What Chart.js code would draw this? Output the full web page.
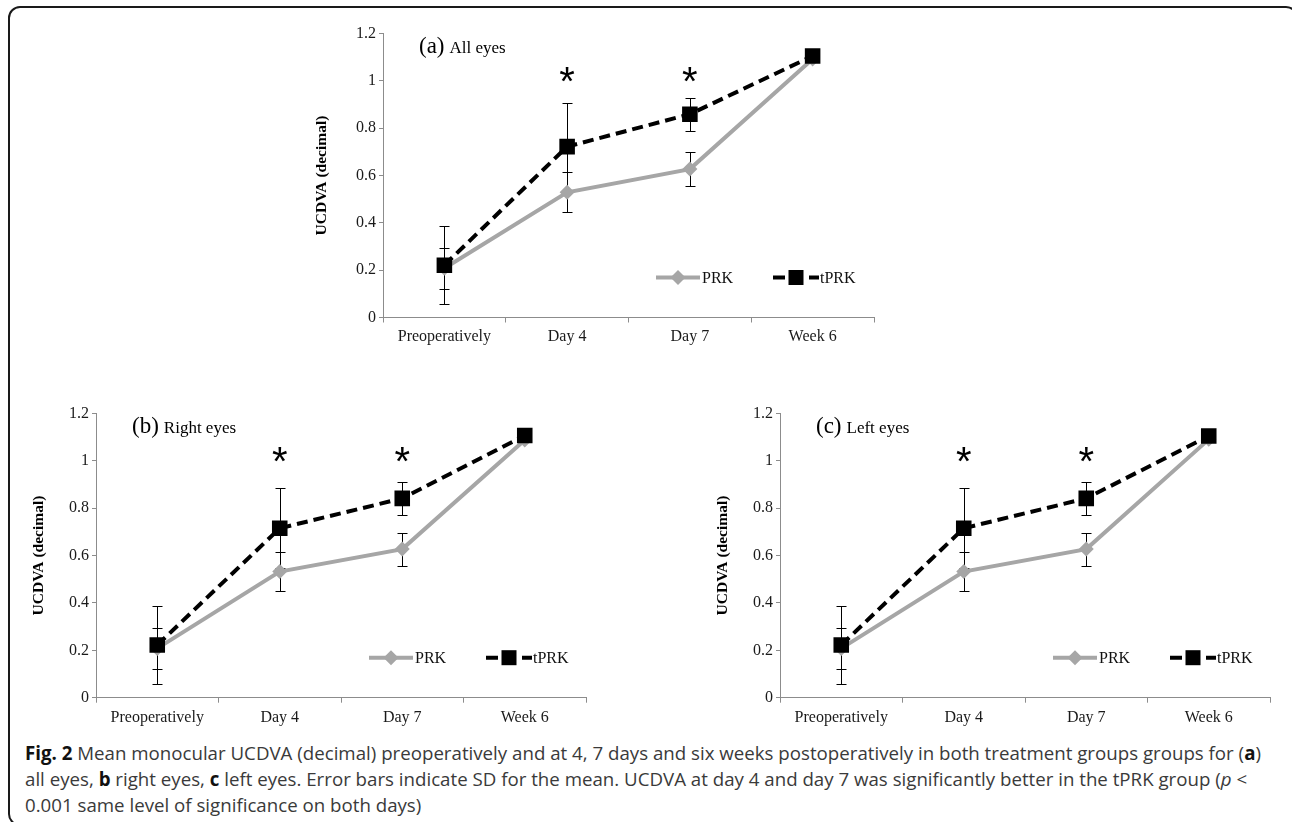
<!DOCTYPE html>
<html>
<head>
<meta charset="utf-8">
<script src="https://cdn.jsdelivr.net/npm/chart.js@4.4.0/dist/chart.umd.min.js"></script>
<style>
    body { margin: 0; background: #fff; width: 1292px; height: 822px; overflow: hidden; position: relative; }
    #frame { position: absolute; left: 8px; top: 6px; width: 1290px; height: 820px; border: 2px solid #1a1a1a; border-radius: 12px; box-sizing: border-box; }
    .panel { position: absolute; }
    #caption { position: absolute; left: 25px; top: 740px; font-family: "Open Sans"; font-size: 17.5px; line-height: 26px; color: #3a3a3a; white-space: nowrap; }
    #caption b { color: #111; }
</style>
</head>
<body>
<div id="frame"></div>
<div class="panel" style="left:297px;top:20px;width:588px;height:340px"><canvas id="chartA"></canvas></div>
<div class="panel" style="left:10px;top:400px;width:587px;height:340px"><canvas id="chartB"></canvas></div>
<div class="panel" style="left:694px;top:400px;width:587px;height:340px"><canvas id="chartC"></canvas></div>
<div id="caption">
    <div id="cap1"><b>Fig. 2</b> Mean monocular UCDVA (decimal) preoperatively and at 4, 7 days and six weeks postoperatively in both treatment groups groups for (<b>a</b>)</div>
    <div><span>all eyes, <b>b</b> right eyes, <b>c</b> left eyes. Error bars indicate SD for the mean. UCDVA at day 4 and day 7 was significantly better in the tPRK group (<i>p</i> &lt;</span></div>
    <div>0.001 same level of significance on both days)</div>
</div>
<script>
const categories = ['Preoperatively', 'Day 4', 'Day 7', 'Week 6'];
const yTickLabels = ['0', '0.2', '0.4', '0.6', '0.8', '1', '1.2'];

// (a) all eyes
const prkAll = [0.208, 0.529, 0.627, 1.092];
const prkAllSD = [0.087, 0.085, 0.071, 0.005];
const tprkAll = [0.221, 0.722, 0.859, 1.105];
const tprkAllSD = [0.166, 0.186, 0.07, 0.005];

// (b) right eyes
const prkRight = [0.208, 0.532, 0.627, 1.087];
const prkRightSD = [0.087, 0.083, 0.07, 0.005];
const tprkRight = [0.222, 0.715, 0.841, 1.106];
const tprkRightSD = [0.164, 0.169, 0.07, 0.005];

// (c) left eyes
const prkLeft = [0.208, 0.532, 0.627, 1.09];
const prkLeftSD = [0.087, 0.083, 0.07, 0.005];
const tprkLeft = [0.222, 0.715, 0.841, 1.104];
const tprkLeftSD = [0.164, 0.169, 0.07, 0.005];

const starCategories = ['Day 4', 'Day 7'];
const starLevel = 1.035;

const GRAY = '#a6a6a6';
const AXIS = '#8c8c8c';
const SERIF = 'Liberation Serif';
const STAR_SIZE = 40;

const extras = {
    id: 'extras',
    beforeDatasetsDraw(chart) {
        const { ctx } = chart;
        const x = chart.scales.x, y = chart.scales.y;
        ctx.save();
        ctx.strokeStyle = '#000';
        ctx.lineWidth = 1;
        chart.data.datasets.forEach(ds => {
            ds.sd.forEach((s, i) => {
                const px = Math.round(x.getPixelForValue(i)) + 0.5;
                const hi = Math.round(y.getPixelForValue(ds.data[i] + s)) + 0.5;
                const lo = Math.round(y.getPixelForValue(ds.data[i] - s)) + 0.5;
                ctx.beginPath();
                ctx.moveTo(px, hi); ctx.lineTo(px, lo);
                ctx.moveTo(px - 5, hi); ctx.lineTo(px + 5, hi);
                ctx.moveTo(px - 5, lo); ctx.lineTo(px + 5, lo);
                ctx.stroke();
            });
        });
        ctx.restore();
    },
    afterDatasetsDraw(chart, args, opts) {
        const { ctx, chartArea: area } = chart;
        const x = chart.scales.x, y = chart.scales.y;
        ctx.save();
        // significance stars
        ctx.fillStyle = '#000';
        ctx.font = STAR_SIZE + 'px "Liberation Sans"';
        ctx.textAlign = 'center';
        ctx.textBaseline = 'alphabetic';
        starCategories.forEach(c => {
            ctx.fillText('*', x.getPixelForValue(categories.indexOf(c)), y.getPixelForValue(starLevel) + STAR_SIZE * 0.57);
        });
        // panel tag
        ctx.textAlign = 'left';
        ctx.font = '23px "' + SERIF + '"';
        const tx = area.left + 36, ty = area.top + 19.5;
        ctx.fillText(opts.tag, tx, ty);
        const tw = ctx.measureText(opts.tag).width;
        ctx.font = '17px "' + SERIF + '"';
        ctx.fillText(opts.name, tx + tw + 5, ty);
        // legend
        const ly = area.bottom - 40;
        const l1 = area.left + 273, l2 = area.left + 390;
        ctx.lineWidth = 4;
        ctx.strokeStyle = GRAY;
        ctx.beginPath(); ctx.moveTo(l1, ly); ctx.lineTo(l1 + 44, ly); ctx.stroke();
        ctx.fillStyle = GRAY;
        ctx.beginPath();
        ctx.moveTo(l1 + 22 - 7.5, ly); ctx.lineTo(l1 + 22, ly - 7.5);
        ctx.lineTo(l1 + 22 + 7.5, ly); ctx.lineTo(l1 + 22, ly + 7.5);
        ctx.closePath(); ctx.fill();
        ctx.strokeStyle = '#000';
        ctx.setLineDash([12, 6]);
        ctx.beginPath(); ctx.moveTo(l2, ly); ctx.lineTo(l2 + 46, ly); ctx.stroke();
        ctx.setLineDash([]);
        ctx.fillStyle = '#000';
        ctx.fillRect(l2 + 23 - 7.5, ly - 7.5, 15, 15);
        ctx.font = '16px "' + SERIF + '"';
        ctx.textBaseline = 'middle';
        ctx.fillStyle = '#111';
        ctx.fillText('PRK', l1 + 46, ly + 1);
        ctx.fillText('tPRK', l2 + 47, ly + 1);
        ctx.restore();
    }
};

function makePanel(id, prk, prkSD, tprk, tprkSD, tag, name, lay) {
    return new Chart(document.getElementById(id), {
        type: 'line',
        data: {
            labels: categories,
            datasets: [{
                label: 'tPRK',
                data: tprk,
                sd: tprkSD,
                borderColor: '#000',
                borderWidth: 4,
                borderDash: [11, 6],
                pointStyle: 'rect',
                pointRadius: 11,
                pointBackgroundColor: '#000',
                pointBorderColor: '#000',
                pointBorderWidth: 0,
                tension: 0
            }, {
                label: 'PRK',
                data: prk,
                sd: prkSD,
                borderColor: GRAY,
                borderWidth: 4,
                pointStyle: 'rectRot',
                pointRadius: 7.5,
                pointBackgroundColor: GRAY,
                pointBorderColor: GRAY,
                pointBorderWidth: 0,
                tension: 0
            }]
        },
        options: {
            responsive: true,
            maintainAspectRatio: false,
            animation: false,
            devicePixelRatio: 1,
            layout: { padding: { top: lay.top, right: 8, left: 0, bottom: 0 } },
            plugins: {
                legend: { display: false },
                tooltip: { enabled: false },
                extras: { tag: tag, name: name }
            },
            scales: {
                x: {
                    type: 'category',
                    offset: true,
                    afterFit: s => { s.height = lay.xh; },
                    grid: { offset: true, drawOnChartArea: false, tickLength: 5, color: AXIS },
                    border: { color: AXIS, width: 1 },
                    ticks: { font: { family: SERIF, size: 16 }, color: '#1a1a1a', padding: 5, maxRotation: 0 }
                },
                y: {
                    min: 0,
                    max: 1.2,
                    afterFit: s => { s.width = 86; },
                    grid: { drawOnChartArea: false, tickLength: 4, color: AXIS },
                    border: { color: AXIS, width: 1 },
                    ticks: {
                        stepSize: 0.2,
                        padding: 3,
                        font: { family: SERIF, size: 16 },
                        color: '#1a1a1a',
                        callback: (v, i) => yTickLabels[i]
                    },
                    title: {
                        display: true,
                        text: 'UCDVA (decimal)',
                        font: { family: SERIF, size: 15.5, weight: 'bold' },
                        color: '#000',
                        padding: { top: lay.tp, bottom: 0 }
                    }
                }
            }
        },
        plugins: [extras]
    });
}

makePanel('chartA', prkAll, prkAllSD, tprkAll, tprkAllSD, '(a)', 'All eyes', { top: 13.5, xh: 42.5, tp: 15.7 });
makePanel('chartB', prkRight, prkRightSD, tprkRight, tprkRightSD, '(b)', 'Right eyes', { top: 13.3, xh: 42.3, tp: 19.7 });
makePanel('chartC', prkLeft, prkLeftSD, tprkLeft, tprkLeftSD, '(c)', 'Left eyes', { top: 13.3, xh: 42.3, tp: 19.7 });

// fit caption font so that the first line spans the same width as in the figure
const cap1 = document.getElementById('cap1');
const w = cap1.getBoundingClientRect().width;
const fs = 17.5 * 1237 / w;
document.getElementById('caption').style.fontSize = fs.toFixed(2) + 'px';
</script>
</body>
</html>
